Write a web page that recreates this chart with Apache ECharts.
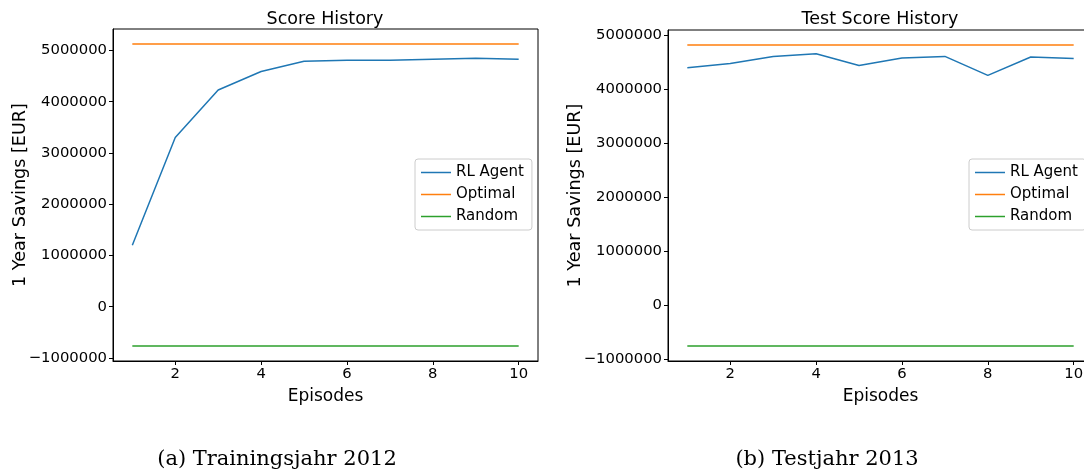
<!DOCTYPE html>
<html>
<head>
<meta charset="utf-8">
<script src="https://cdn.jsdelivr.net/npm/echarts@6/dist/echarts.min.js"></script>
<style>
html,body{margin:0;padding:0;background:#fff;}
#chart{width:1084px;height:472px;}
</style>
</head>
<body>
<div id="chart"></div>
<script>
// ---- data ----
const episodes = [1, 2, 3, 4, 5, 6, 7, 8, 9, 10];
const trainRL = [1200000, 3300000, 4230000, 4590000, 4790000, 4810000, 4810000, 4830000, 4850000, 4830000];
const trainOptimal = [5125000, 5125000, 5125000, 5125000, 5125000, 5125000, 5125000, 5125000, 5125000, 5125000];
const trainRandom = [-766000, -766000, -766000, -766000, -766000, -766000, -766000, -766000, -766000, -766000];
const testRL = [4390000, 4470000, 4600000, 4650000, 4430000, 4570000, 4600000, 4250000, 4590000, 4560000];
const testOptimal = [4810000, 4810000, 4810000, 4810000, 4810000, 4810000, 4810000, 4810000, 4810000, 4810000];
const testRandom = [-757000, -757000, -757000, -757000, -757000, -757000, -757000, -757000, -757000, -757000];
const yTicks = [-1000000, 0, 1000000, 2000000, 3000000, 4000000, 5000000];
const xTicks = [2, 4, 6, 8, 10];
const seriesNames = ['RL Agent', 'Optimal', 'Random'];
const colors = ['#1f77b4', '#ff7f0e', '#2ca02c'];

function pairs(xs, ys) { return xs.map((x, i) => [x, ys[i]]); }
function limits(arrs) {
  const all = [].concat(...arrs);
  const lo = Math.min(...all), hi = Math.max(...all);
  const m = (hi - lo) * 0.05;
  return [lo - m, hi + m];
}
const trainLim = limits([trainRL, trainOptimal, trainRandom]);
const testLim = limits([testRL, testOptimal, testRandom]);
const xLo = 1 - 0.45, xHi = 10 + 0.45;

const FONT = 'DejaVu Sans';
const tickFont = { color: '#000', fontSize: 14.8, fontFamily: FONT };

function xAxis(gi) {
  return {
    type: 'value', gridIndex: gi, min: xLo, max: xHi,
    name: 'Episodes', nameLocation: 'middle', nameGap: 27, nameMoveOverlap: false,
    nameTextStyle: { color: '#000', fontSize: 17, fontFamily: FONT },
    axisLine: { show: true, onZero: false, lineStyle: { color: '#000', width: 1 } },
    axisTick: { show: true, customValues: xTicks, length: 4, lineStyle: { color: '#000' } },
    axisLabel: Object.assign({ customValues: xTicks, margin: 6 }, tickFont),
    splitLine: { show: false }
  };
}
function yAxis(gi, lim) {
  return {
    type: 'value', gridIndex: gi, min: lim[0], max: lim[1],
    name: '1 Year Savings [EUR]', nameLocation: 'middle', nameGap: 84, nameMoveOverlap: false,
    nameTextStyle: { color: '#000', fontSize: 17.6, fontFamily: FONT },
    axisLine: { show: true, onZero: false, lineStyle: { color: '#000', width: 1 } },
    axisTick: { show: true, customValues: yTicks, length: 4, lineStyle: { color: '#000' } },
    axisLabel: Object.assign({
      customValues: yTicks, margin: 6,
      formatter: v => String(Math.round(v)).replace('-', '\u2212')
    }, tickFont),
    splitLine: { show: false }
  };
}
function line(name, data, gi, ci) {
  return {
    name: name, type: 'line', xAxisIndex: gi, yAxisIndex: gi,
    data: data, symbol: 'none', showSymbol: false,
    lineStyle: { color: colors[ci], width: 1.5 }, itemStyle: { color: colors[ci] },
    silent: true, animation: false
  };
}
function legend(left, top) {
  return {
    orient: 'vertical', left: left, top: top,
    data: seriesNames.map(n => ({ name: n, icon: 'rect' })),
    itemWidth: 30, itemHeight: 1.5, itemGap: 7,
    backgroundColor: '#fff', borderColor: '#ccc', borderWidth: 1, borderRadius: 3,
    padding: [6, 8, 6, 6],
    textStyle: { color: '#000', fontSize: 15, fontFamily: FONT, padding: [0, 0, 0, 0] },
    selectedMode: false
  };
}

const chart = echarts.init(document.getElementById('chart'), null, { renderer: 'canvas' });
chart.setOption({
  animation: false,
  backgroundColor: '#fff',
  title: [
    { text: 'Score History', left: 320, top: 5, textAlign: 'center',
      textStyle: { color: '#000', fontSize: 17.5, fontWeight: 'normal', fontFamily: FONT } },
    { text: 'Test Score History', left: 875, top: 5, textAlign: 'center',
      textStyle: { color: '#000', fontSize: 17.5, fontWeight: 'normal', fontFamily: FONT } },
    { text: '(a) Trainingsjahr 2012', left: 272, top: 444, textAlign: 'center',
      textStyle: { color: '#000', fontSize: 21, fontWeight: 'normal', fontFamily: 'DejaVu Serif' } },
    { text: '(b) Testjahr 2013', left: 822, top: 444, textAlign: 'center',
      textStyle: { color: '#000', fontSize: 21, fontWeight: 'normal', fontFamily: 'DejaVu Serif' } }
  ],
  legend: [legend(415, 159), legend(969, 159)],
  grid: [
    { left: 113, top: 29, width: 425, height: 332, show: true, borderColor: '#000', borderWidth: 1, backgroundColor: 'transparent', outerBoundsMode: 'none', containLabel: false },
    { left: 668, top: 30, width: 425, height: 331, show: true, borderColor: '#000', borderWidth: 1, backgroundColor: 'transparent', outerBoundsMode: 'none', containLabel: false }
  ],
  xAxis: [xAxis(0), xAxis(1)],
  yAxis: [yAxis(0, trainLim), yAxis(1, testLim)],
  series: [
    line('RL Agent', pairs(episodes, trainRL), 0, 0),
    line('Optimal', pairs(episodes, trainOptimal), 0, 1),
    line('Random', pairs(episodes, trainRandom), 0, 2),
    line('RL Agent', pairs(episodes, testRL), 1, 0),
    line('Optimal', pairs(episodes, testOptimal), 1, 1),
    line('Random', pairs(episodes, testRandom), 1, 2)
  ]
});
</script>
</body>
</html>
